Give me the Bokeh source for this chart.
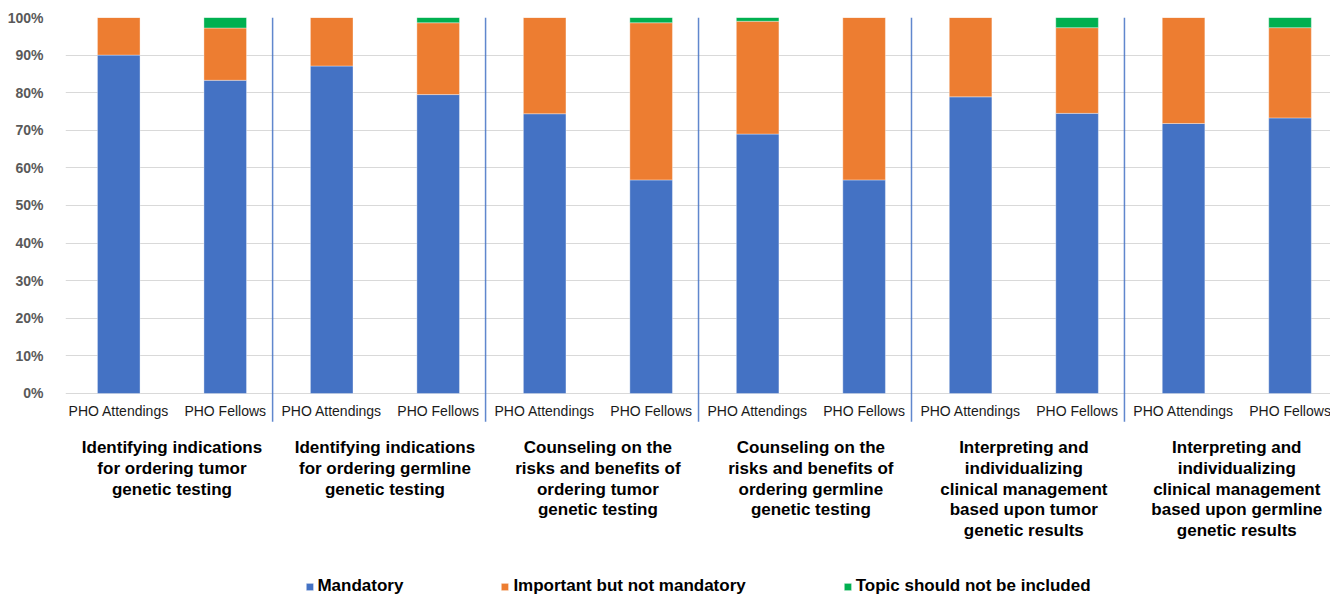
from bokeh.plotting import figure
from bokeh.models import (ColumnDataSource, Range1d, FixedTicker, Legend, LegendItem,
                          CustomJSTickFormatter)
from bokeh.core.properties import value
from bokeh.embed import file_html
from bokeh.resources import INLINE

# ---- data ----
groups = [
    "Identifying indications\nfor ordering tumor\ngenetic testing",
    "Identifying indications\nfor ordering germline\ngenetic testing",
    "Counseling on the\nrisks and benefits of\nordering tumor\ngenetic testing",
    "Counseling on the\nrisks and benefits of\nordering germline\ngenetic testing",
    "Interpreting and\nindividualizing\nclinical management\nbased upon tumor\ngenetic results",
    "Interpreting and\nindividualizing\nclinical management\nbased upon germline\ngenetic results",
]
respondents = ["PHO Attendings", "PHO Fellows"]
series = ["Mandatory", "Important but not mandatory", "Topic should not be included"]
mandatory = [90.0, 83.3, 87.1, 79.5, 74.4, 56.8, 69.0, 56.8, 78.9, 74.5, 71.8, 73.3]
important = [10.0, 13.9, 12.9, 19.1, 25.6, 41.8, 30.0, 43.2, 21.1, 22.8, 28.2, 24.0]
not_included = [0.0, 2.8, 0.0, 1.4, 0.0, 1.4, 1.0, 0.0, 0.0, 2.7, 0.0, 2.7]
y_ticks = [0, 10, 20, 30, 40, 50, 60, 70, 80, 90, 100]

colors = ["#4472C4", "#ED7D31", "#00B050"]

n_cat = len(groups) * len(respondents)
xs = [i + 0.5 for i in range(n_cat)]
cat_labels = [respondents[i % len(respondents)] for i in range(n_cat)]
group_x = [g * len(respondents) + len(respondents) / 2 for g in range(len(groups))]
SEP_SHIFT = -0.055
sep_x = [g * len(respondents) + SEP_SHIFT for g in range(1, len(groups))]

source = ColumnDataSource(dict(x=xs, m=mandatory, i=important, t=not_included))

p = figure(width=1330, height=596, output_backend="svg", toolbar_location=None,
           x_range=Range1d(0, 11.88), y_range=Range1d(-54.0, 100),
           x_axis_location=None, min_border_left=65, min_border_right=0,
           min_border_top=17, min_border_bottom=0)
p.outline_line_color = None
p.xgrid.visible = False
p.ygrid.ticker = FixedTicker(ticks=y_ticks)
p.ygrid.grid_line_color = "#d9d9d9"
p.ygrid.grid_line_width = 1

ax = p.yaxis[0]
ax.ticker = FixedTicker(ticks=y_ticks)
ax.formatter = CustomJSTickFormatter(code="return tick + '%';")
ax.axis_line_color = None
ax.major_tick_line_color = None
ax.minor_tick_line_color = None
ax.major_label_standoff = 16
ax.major_label_text_font = "Liberation Sans"
ax.major_label_text_font_size = "14px"
ax.major_label_text_font_style = "bold"
ax.major_label_text_color = "#595959"

# separators between groups
p.segment(x0=sep_x, x1=sep_x, y0=[-7.5] * len(sep_x), y1=[100] * len(sep_x),
          line_color="#4472C4", line_width=1.5, line_alpha=0.85)

rs = p.vbar_stack(["m", "i", "t"], x="x", width=0.4, source=source,
                  color=colors, line_color="white", line_width=0.6, line_alpha=0.6)

# category labels
p.text(x=xs, y=[0] * n_cat, text=cat_labels, y_offset=18,
       text_align="center", text_baseline="middle",
       text_font=value("Liberation Sans"), text_font_size="14px", text_color="#1a1a1a")

# group labels
p.text(x=group_x, y=[0] * len(groups), text=groups, y_offset=45,
       text_align="center", text_baseline="top", text_line_height=1.08,
       text_font=value("Liberation Sans"), text_font_size="17px",
       text_font_style="bold", text_color="#000000")

legend = Legend(items=[LegendItem(label=s, renderers=[r]) for s, r in zip(series, rs)],
                orientation="horizontal", location="bottom_center",
                glyph_width=9, glyph_height=9, label_standoff=4, spacing=97,
                padding=0, margin=0, border_line_color=None, background_fill_alpha=0,
                label_text_font="Liberation Sans", label_text_font_size="17px",
                label_text_font_style="bold", label_text_color="#000000")
p.add_layout(legend)

open("out.html", "w").write(file_html(p, INLINE))
